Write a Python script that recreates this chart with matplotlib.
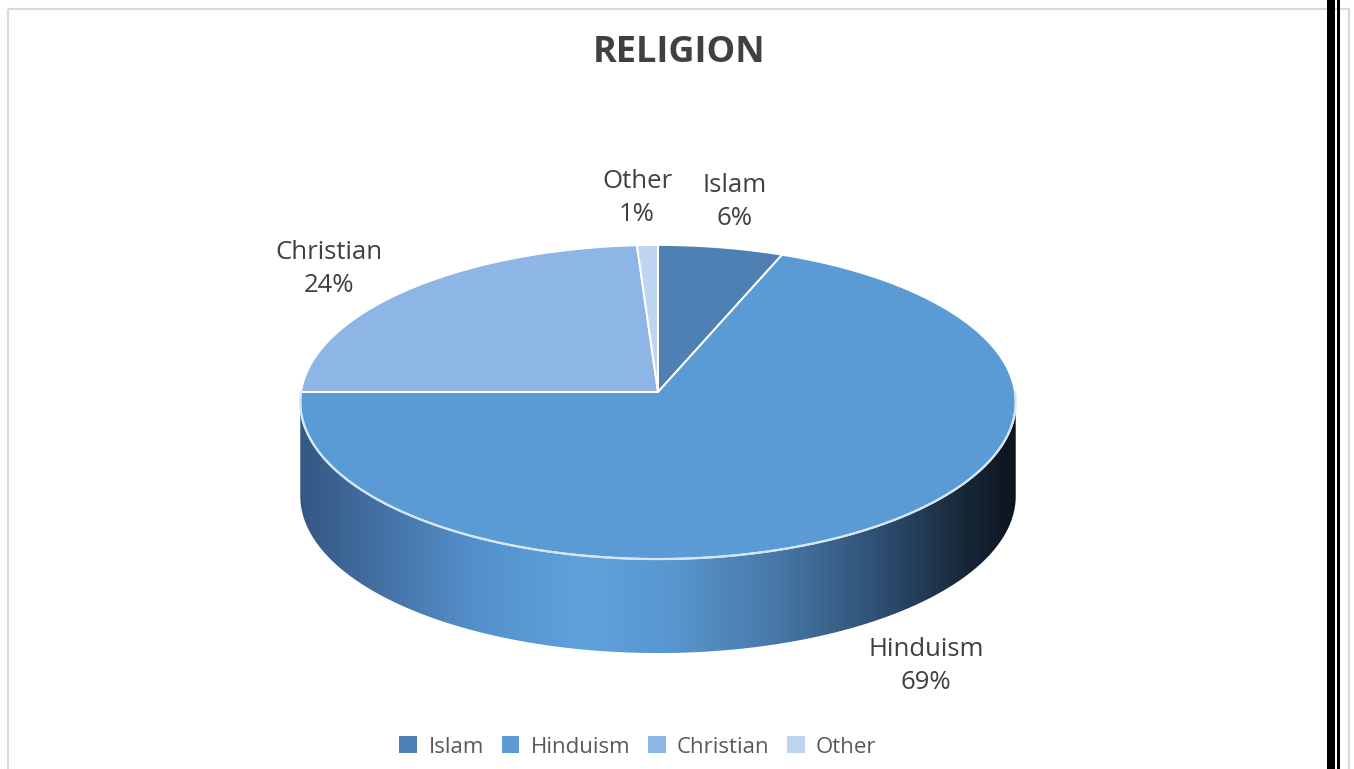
import numpy as np
import matplotlib
matplotlib.use("Agg")
import matplotlib.pyplot as plt
from matplotlib.patches import Polygon, Patch, Rectangle

# ---- data ----
categories = ["Islam", "Hinduism", "Christian", "Other"]
shares = [6, 69, 24, 1]
slice_colors = ["#4F80B3", "#5B9BD5", "#8DB5E6", "#BDD5F0"]
title = "RELIGION"

plt.rcParams["font.family"] = ["Open Sans", "DejaVu Sans"]

W, H = 1354, 769
fig = plt.figure(figsize=(W / 100, H / 100), dpi=100)
ax = fig.add_axes([0, 0, 1, 1])
ax.set_xlim(0, W)
ax.set_ylim(H, 0)
ax.axis("off")

# ---- 3D pie geometry (pixel space, simple perspective) ----
cx, cy = 658, 392       # projected pie centre
rx = 357                # horizontal radius
A, k = 156.4, 0.0637    # vertical radius and perspective factor
depth = 94              # thickness of the disc


def project(theta, dy=0.0):
    """theta measured clockwise from 12 o'clock (radians)."""
    u = np.sin(theta)
    v = np.cos(theta)
    w = 1 + k * v
    return cx + rx * u / w, cy - A * v / w + dy


# front side wall (visible half of the rim)
t0 = np.pi / 2 + np.arcsin(k)
t1 = 3 * np.pi / 2 - np.arcsin(k)
ts = np.linspace(t0, t1, 300)
xt, yt = project(ts)
xb, yb = project(ts[::-1], depth)
side_xy = np.column_stack([np.r_[xt, xb], np.r_[yt, yb]])
side = Polygon(side_xy, closed=True, facecolor="none", edgecolor="none")
ax.add_patch(side)

# shading across the wall, dark at the edges and light near the front
stops = [0.0, 0.08, 0.25, 0.40, 0.52, 0.66, 0.80, 0.92, 1.0]
cols = np.array([
    (52, 88, 132), (64, 106, 155), (84, 145, 204), (95, 162, 222),
    (88, 150, 206), (72, 122, 170), (48, 82, 118), (25, 42, 60), (12, 20, 30),
]) / 255.0
xmin, xmax = side_xy[:, 0].min(), side_xy[:, 0].max()
ymin, ymax = side_xy[:, 1].min(), side_xy[:, 1].max()
n = 600
f = np.linspace(0, 1, n)
grad = np.stack([np.interp(f, stops, cols[:, c]) for c in range(3)], axis=-1)[None, :, :]
im = ax.imshow(grad, extent=[xmin, xmax, ymax, ymin], aspect="auto",
               interpolation="bilinear", zorder=1)
im.set_clip_path(side)

# top face wedges (clockwise from 12 o'clock, like the spreadsheet default)
total = float(sum(shares))
start = 0.0
for share, col in zip(shares, slice_colors):
    end = start + 2 * np.pi * share / total
    th = np.linspace(start, end, max(int(share * 6), 8))
    px, py = project(th)
    xy = np.column_stack([np.r_[cx, px], np.r_[cy, py]])
    ax.add_patch(Polygon(xy, closed=True, facecolor=col, edgecolor="white",
                         linewidth=1.4, joinstyle="round", zorder=2))
    start = end

# light rim along the front edge of the top face
rx_, ry_ = project(np.linspace(np.pi / 2, 3 * np.pi / 2, 300))
ax.plot(rx_, ry_, color="#D4E5F5", lw=1.6, zorder=3, solid_capstyle="round")

# ---- data labels ----
label_pos = {"Islam": (735, 202), "Hinduism": (926, 666),
             "Christian": (329, 269), "Other": (637, 198)}
for name, share in zip(categories, shares):
    x, y = label_pos[name]
    ax.text(x, y, f"{name}\n{share}%", ha="center", va="center",
            fontsize=18.5, color="#404040", linespacing=1.38, zorder=4)

# ---- title ----
ax.text(679, 53, title, ha="center", va="center", fontsize=26,
        fontweight="bold", color="#404040")

# ---- legend ----
handles = [Patch(facecolor=c, edgecolor="none") for c in slice_colors]
ax.legend(handles, categories, loc="center", bbox_to_anchor=(638 / W, 1 - 747 / H),
          bbox_transform=fig.transFigure, ncol=4, frameon=False, fontsize=16,
          handlelength=0.8, handleheight=0.8, handletextpad=0.5,
          columnspacing=0.8, labelcolor="#595959", borderpad=0)

# ---- chart frame and slide edge ----
ax.add_patch(Rectangle((8, 9), 1341, 800, fill=False, edgecolor="#D9D9D9",
                       lw=1.5, zorder=0))
ax.add_patch(Rectangle((1327, 0), 8, H, facecolor="black", edgecolor="none", zorder=5))
ax.add_patch(Rectangle((1337, 0), 2.5, H, facecolor="black", edgecolor="none", zorder=5))

fig.savefig("out.png", dpi=100, facecolor="white")
